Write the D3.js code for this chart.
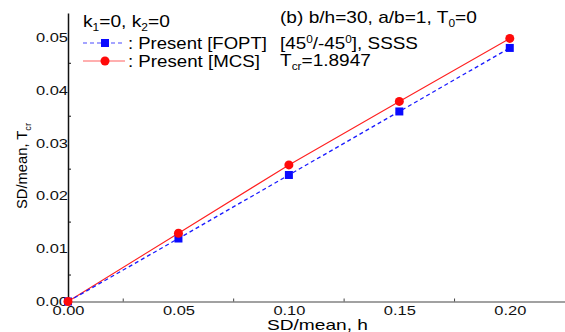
<!DOCTYPE html>
<html>
<head>
<meta charset="utf-8">
<script src="https://cdn.jsdelivr.net/npm/d3@7"></script>
<style>
  body { margin: 0; background: #fff; }
  svg { font-family: "Liberation Sans", Arial, sans-serif; }
</style>
</head>
<body>
<div id="chart"></div>
<script>
// data
const xVals = [0.00, 0.05, 0.10, 0.15, 0.20];
const foptVals = [0.0, 0.0119, 0.0239, 0.0359, 0.0479];
const mcsVals = [0.0, 0.0129, 0.0258, 0.0378, 0.0497];
const xTicks = [0.00, 0.05, 0.10, 0.15, 0.20];
const yTicks = [0.00, 0.01, 0.02, 0.03, 0.04, 0.05];

const width = 565, height = 332;
const svg = d3.select("#chart").append("svg")
    .attr("width", width)
    .attr("height", height);

const x = d3.scaleLinear().domain([0, 0.225]).range([68, 565]);
const y = d3.scaleLinear().domain([0, 0.0545]).range([301.5, 13]);

// stretch a text horizontally so it spans from x0 to x1
function fit(sel, x0, x1) {
    const w = sel.node().getBBox().width;
    const k = (x1 - x0) / w;
    sel.attr("transform", `translate(${x0},0) scale(${k},1) translate(${-x0},0)`);
}

// axes
const xAxis = svg.append("g")
    .attr("transform", `translate(0,${y(0)})`)
    .call(d3.axisBottom(x).tickValues(xTicks).tickFormat(d3.format(".2f")).tickSize(0).tickPadding(4));
xAxis.select(".domain").attr("stroke", "#444").attr("stroke-width", 1.2);
xAxis.selectAll("text").attr("font-size", 13.5).attr("fill", "#111")
    .attr("font-family", "Liberation Sans, Arial, sans-serif")
    .attr("transform", "scale(1.22,1)")
    .attr("x", 0);

// minor x ticks (inward)
svg.selectAll(".xminor")
    .data([0.025, 0.075, 0.125, 0.175])
    .enter().append("line")
    .attr("x1", d => x(d)).attr("x2", d => x(d))
    .attr("y1", y(0)).attr("y2", y(0) - 3)
    .attr("stroke", "#444");

const yAxis = svg.append("g")
    .attr("transform", `translate(${x(0)},0)`)
    .call(d3.axisLeft(y).tickValues(yTicks).tickFormat(d3.format(".2f")).tickSize(0).tickPadding(0));
yAxis.select(".domain").attr("stroke", "#111").attr("stroke-width", 1.5);
yAxis.selectAll("text").attr("font-size", 13.5).attr("fill", "#111")
    .attr("font-family", "Liberation Sans, Arial, sans-serif")
    .attr("transform", "scale(1.22,1)");

// minor y ticks (inward)
svg.selectAll(".yminor")
    .data([0.005, 0.015, 0.025, 0.035, 0.045])
    .enter().append("line")
    .attr("x1", x(0)).attr("x2", x(0) + 3)
    .attr("y1", d => y(d)).attr("y2", d => y(d))
    .attr("stroke", "#111");

// axis titles
const xTitle = svg.append("text")
    .attr("x", 267).attr("y", 330)
    .attr("font-size", 14.5)
    .text("SD/mean, h");
fit(xTitle, 267, 368);

const yTitle = svg.append("text")
    .attr("transform", "translate(27,166) rotate(-90)")
    .attr("text-anchor", "middle")
    .attr("font-size", 14.5)
    .attr("textLength", 86)
    .attr("lengthAdjust", "spacingAndGlyphs");
yTitle.append("tspan").text("SD/mean, T");
yTitle.append("tspan").attr("font-size", 9).attr("dy", 4).text("cr");

// series
const line = d3.line().x(d => x(d[0])).y(d => y(d[1]));
const fopt = xVals.map((v, i) => [v, foptVals[i]]);
const mcs = xVals.map((v, i) => [v, mcsVals[i]]);

svg.append("path").datum(mcs)
    .attr("d", line).attr("fill", "none")
    .attr("stroke", "#ff2020").attr("stroke-width", 1.1);
svg.append("path").datum(fopt)
    .attr("d", line).attr("fill", "none")
    .attr("stroke", "#1a1aff").attr("stroke-width", 1.3)
    .attr("stroke-dasharray", "4,3");

svg.selectAll(".sq").data(fopt).enter().append("rect")
    .attr("x", d => x(d[0]) - 4).attr("y", d => y(d[1]) - 4)
    .attr("width", 8).attr("height", 8)
    .attr("fill", "#0a0aff");
svg.selectAll(".ci").data(mcs).enter().append("circle")
    .attr("cx", d => x(d[0])).attr("cy", d => y(d[1]))
    .attr("r", 4.5)
    .attr("fill", "#ff0a0a");

// legend and notes
const k = svg.append("text").attr("x", 83).attr("y", 27).attr("font-size", 16);
k.append("tspan").text("k");
k.append("tspan").attr("font-size", 10).attr("dy", 4).text("1");
k.append("tspan").attr("dy", -4).text("=0, k");
k.append("tspan").attr("font-size", 10).attr("dy", 4).text("2");
k.append("tspan").attr("dy", -4).text("=0");
fit(k, 83, 170);

svg.append("line").attr("x1", 83).attr("x2", 125).attr("y1", 43).attr("y2", 43)
    .attr("stroke", "#4a4aff").attr("stroke-width", 1.2).attr("stroke-dasharray", "4,3");
svg.append("rect").attr("x", 101).attr("y", 39).attr("width", 8).attr("height", 8).attr("fill", "#0a0aff");
const l1 = svg.append("text").attr("x", 128).attr("y", 49).attr("font-size", 16).text(": Present [FOPT]");
fit(l1, 128, 267);

svg.append("line").attr("x1", 83).attr("x2", 125).attr("y1", 61).attr("y2", 61)
    .attr("stroke", "#ff6060").attr("stroke-width", 1.2);
svg.append("circle").attr("cx", 105).attr("cy", 61).attr("r", 4.5).attr("fill", "#ff0a0a");
const l2 = svg.append("text").attr("x", 128).attr("y", 67).attr("font-size", 16).text(": Present [MCS]");
fit(l2, 128, 260);

const b = svg.append("text").attr("x", 280).attr("y", 23).attr("font-size", 16);
b.append("tspan").text("(b) b/h=30, a/b=1, T");
b.append("tspan").attr("font-size", 10).attr("dy", 4).text("0");
b.append("tspan").attr("dy", -4).text("=0");
fit(b, 280, 477);

const ang = svg.append("text").attr("x", 280).attr("y", 49).attr("font-size", 16);
ang.append("tspan").text("[45");
ang.append("tspan").attr("font-size", 10).attr("dy", -6).text("0");
ang.append("tspan").attr("dy", 6).text("/-45");
ang.append("tspan").attr("font-size", 10).attr("dy", -6).text("0");
ang.append("tspan").attr("dy", 6).text("], SSSS");
fit(ang, 280, 418);

const t = svg.append("text").attr("x", 280).attr("y", 66).attr("font-size", 16);
t.append("tspan").text("T");
t.append("tspan").attr("font-size", 10).attr("dy", 4).text("cr");
t.append("tspan").attr("dy", -4).text("=1.8947");
fit(t, 280, 371);
</script>
</body>
</html>
